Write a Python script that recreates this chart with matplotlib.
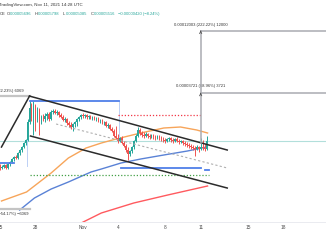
import matplotlib
matplotlib.use("Agg")
import matplotlib.pyplot as plt
import matplotlib.dates as mdates
from datetime import datetime, timedelta

plt.rcParams['font.family'] = ['Liberation Sans', 'DejaVu Sans']

# ---------------- data (4h candles, price x 1e-8) ----------------
start = datetime(2021, 10, 25, 0, 0)
opens = [4253, 4166, 4209, 4298, 4166, 4342, 4434, 4574, 4670, 4622,
         4869, 5023, 5182, 5402, 5574, 6721, 7775, 7006, 7938, 6862,
         7614, 6791, 7080, 6934, 7154, 7304, 6934, 7458, 7535, 7380,
         7458, 7229, 7080, 6862, 6934, 6651, 6515, 6381, 6583, 6721,
         6934, 7080, 7229, 7154, 7229, 7080, 7154, 7006, 7080, 6934,
         7006, 6791, 6862, 6651, 6721, 6447, 6515, 6249, 6121, 5810,
         5691, 5516, 5691, 5402, 5236, 5023, 4818, 4971, 5182, 5516,
         5810, 6185, 5995, 5871, 5810, 5933, 5810, 5750, 5871, 5750,
         5691, 5810, 5691, 5632, 5574, 5516, 5632, 5691, 5574, 5516,
         5632, 5516, 5459, 5516, 5402, 5346, 5291, 5236, 5182, 5129,
         5076, 5182, 5076, 5182, 5129, 5076]
highs = [4342, 4298, 4342, 4342, 4388, 4480, 4622, 4719, 4769, 4920,
         5076, 5236, 5459, 5632, 6934, 8362, 8190, 8362, 8106, 7856,
         7775, 7229, 7304, 7380, 7458, 7458, 7614, 7695, 7695, 7614,
         7535, 7380, 7229, 7080, 7006, 6791, 6721, 6651, 6791, 7006,
         7154, 7304, 7380, 7304, 7304, 7229, 7229, 7154, 7154, 7080,
         7080, 6934, 6934, 6791, 6791, 6651, 6583, 6381, 6249, 6447,
         5933, 5750, 5810, 5516, 5346, 5182, 5023, 5236, 5574, 5933,
         6381, 6315, 6121, 6057, 6057, 5995, 5933, 5933, 5933, 5871,
         5871, 5871, 5810, 5750, 5691, 5691, 5750, 5750, 5691, 5691,
         5750, 5632, 5574, 5574, 5516, 5459, 5402, 5346, 5291, 5236,
         5291, 5236, 5691, 5574, 5346, 5810]
lows = [4080, 4122, 4166, 4122, 4122, 4253, 4388, 4480, 4574, 4574,
        4769, 4920, 5129, 5291, 5516, 6583, 6791, 5871, 6121, 6721,
        5871, 6583, 6791, 6721, 6862, 6791, 6862, 7304, 7304, 7229,
        7080, 7006, 6791, 6721, 6515, 6381, 6249, 6121, 6381, 6447,
        6791, 6934, 7006, 7006, 6934, 6934, 6934, 6862, 6862, 6791,
        6721, 6651, 6583, 6515, 6381, 6315, 6185, 6057, 5750, 5632,
        5402, 5459, 5346, 5182, 4920, 4527, 4719, 4869, 5076, 5459,
        5750, 5871, 5750, 5691, 5750, 5691, 5632, 5691, 5632, 5574,
        5632, 5574, 5516, 5459, 5402, 5459, 5516, 5459, 5402, 5459,
        5459, 5346, 5402, 5291, 5236, 5182, 5129, 5076, 5023, 4719,
        5023, 4920, 5023, 5023, 4971, 5023]
closes = [4166, 4209, 4298, 4166, 4342, 4434, 4574, 4670, 4622, 4869,
          5023, 5182, 5402, 5574, 6721, 7775, 7006, 7938, 6862, 7614,
          6791, 7080, 6934, 7154, 7304, 6934, 7458, 7535, 7380, 7458,
          7229, 7080, 6862, 6934, 6651, 6515, 6381, 6583, 6721, 6934,
          7080, 7229, 7154, 7229, 7080, 7154, 7006, 7080, 6934, 7006,
          6791, 6862, 6651, 6721, 6447, 6515, 6249, 6121, 5810, 5691,
          5516, 5691, 5402, 5236, 5023, 4818, 4971, 5182, 5516, 5810,
          6185, 5995, 5871, 5810, 5933, 5810, 5750, 5871, 5750, 5691,
          5810, 5691, 5632, 5574, 5516, 5632, 5691, 5574, 5516, 5632,
          5516, 5459, 5516, 5402, 5346, 5291, 5236, 5182, 5129, 5076,
          5182, 5076, 5182, 5129, 5076, 5516]

# moving averages (sampled)
ma_orange_t = ["2021-10-25 03:00", "2021-10-27 06:00", "2021-10-29 08:00", "2021-10-30 19:00",
               "2021-11-01 07:00", "2021-11-02 14:00", "2021-11-03 20:00", "2021-11-05 22:00",
               "2021-11-07 21:00", "2021-11-09 07:00", "2021-11-10 16:00", "2021-11-11 14:00"]
ma_orange_v = [2956, 3246, 3955, 4622, 5129, 5402, 5632, 5995, 6315, 6381, 6185, 5995]
ma_blue_t = ["2021-10-26 16:00", "2021-10-27 22:00", "2021-10-29 08:00", "2021-10-30 19:00",
             "2021-11-01 17:00", "2021-11-02 14:00", "2021-11-04 06:00", "2021-11-05 22:00",
             "2021-11-07 21:00", "2021-11-09 21:00", "2021-11-11 12:00"]
ma_blue_v = [2691, 3049, 3348, 3601, 3996, 4122, 4388, 4574, 4769, 4971, 5182]
ma_red_t = ["2021-10-31 17:00", "2021-11-02 14:00", "2021-11-05 08:00", "2021-11-08 05:00",
            "2021-11-11 14:00"]
ma_red_v = [2327, 2609, 2895, 3146, 3455]

tick_dates = ["2021-10-25", "2021-10-28", "2021-11-01", "2021-11-04", "2021-11-08",
              "2021-11-11", "2021-11-15", "2021-11-18"]
tick_labels = ["25", "28", "Nov", "4", "8", "11", "15", "18"]

# drawing anchors (time, price)
peak_t, peak_p = "2021-10-27 12:00", 8800
chan_end_t = "2021-11-13 06:00"
upper_end_p = 5023
lower_start_t, lower_start_p = "2021-10-27 14:00", 5810
lower_end_p = 3383
mid_start_t, mid_start_p, mid_end_p = "2021-10-29 18:00", 6583, 4166
left_leg_t, left_leg_p = "2021-10-25 03:00", 5182
res_p, res_end_t = 8362, "2021-11-04 02:00"
red_dot_p = 7229
green_dot_p = 3873
sup_p = 4166
last_p = 5516
range_base_p, range_mid_p, range_top_p = 5402, 9117, 17404
left_top_p, left_bot_p = 8800, 2731

# ---------------- figure ----------------
W, H = 326, 245
fig = plt.figure(figsize=(W / 100, H / 100), dpi=100)
ax = fig.add_axes([0, 23 / H, 1, 222 / H])
ax.set_yscale('log')

D = lambda s: mdates.date2num(datetime.fromisoformat(s))

times = [start + timedelta(hours=4 * i) for i in range(len(closes))]
xs = mdates.date2num(times)
up_c, dn_c = '#26a69a', '#ef5350'
cols = [up_c if c >= o else dn_c for o, c in zip(opens, closes)]

# faint current price line
ax.axhline(last_p, color='#b2dfdb', lw=0.8, zorder=1)

# MAs
ax.plot([D(t) for t in ma_orange_t], ma_orange_v, color='#f7a55a', lw=1.0, zorder=2)
ax.plot([D(t) for t in ma_blue_t], ma_blue_v, color='#5a82d6', lw=1.0, zorder=2)
ax.plot([D(t) for t in ma_red_t], ma_red_v, color='#ff5a5f', lw=1.0, zorder=2)

# candles
ax.vlines(xs, lows, highs, colors=cols, lw=0.7, zorder=3)
bottoms = [min(o, c) for o, c in zip(opens, closes)]
heights = [max(abs(c - o), 10) for o, c in zip(opens, closes)]
ax.bar(xs, heights, bottom=bottoms, width=0.13, color=cols, zorder=4, linewidth=0)

# horizontals
ax.plot([D(peak_t), D(res_end_t)], [res_p, res_p], color='#4f7fe8', lw=1.3, zorder=5)
ax.plot([D(res_end_t), D(res_end_t)], [res_p, 5574], color='#bcd0f5', lw=0.7, zorder=2)
ax.plot([D("2021-11-04 00:00"), D("2021-11-11 00:00")], [red_dot_p] * 2,
        color='#f23645', lw=0.9, ls=(0, (1, 1.5)), zorder=5)
ax.plot([D(peak_t), D("2021-11-11 16:00")], [green_dot_p] * 2,
        color='#43a047', lw=0.9, ls=(0, (1, 1.5)), zorder=5)
ax.plot([D("2021-11-04 06:00"), D("2021-11-11 00:00")], [sup_p] * 2,
        color='#4f7fe8', lw=1.3, zorder=5)
ax.plot([D("2021-11-11 08:00"), D("2021-11-11 16:00")], [4080] * 2,
        color='#4f7fe8', lw=1.3, zorder=5)
ax.plot([D("2021-10-24 12:00"), D("2021-10-26 04:00")], [4388] * 2,
        color='#4f7fe8', lw=1.3, zorder=5)
ax.plot([D("2021-10-27 06:00"), D("2021-10-27 06:00")], [5574, 4253],
        color='#bcd0f5', lw=0.7, zorder=2)

# channel
ax.plot([D(left_leg_t), D(peak_t)], [left_leg_p, peak_p], color='#2b2b2b', lw=1.1, zorder=6)
ax.plot([D(peak_t), D(chan_end_t)], [peak_p, upper_end_p], color='#2b2b2b', lw=1.1, zorder=6)
ax.plot([D(lower_start_t), D(chan_end_t)], [lower_start_p, lower_end_p], color='#2b2b2b', lw=1.1, zorder=6)
ax.plot([D(mid_start_t), D(chan_end_t)], [mid_start_p, mid_end_p], color='#b0b0b0', lw=0.8,
        ls=(0, (2, 2)), zorder=5)

# left measurement
gray = '#a9abb2'
ax.plot([D("2021-10-24 00:00"), D(peak_t)], [left_top_p] * 2, color='#c4c4c4', lw=1.6, zorder=5)
ax.plot([D("2021-10-24 00:00"), D(peak_t)], [left_bot_p] * 2, color='#c4c4c4', lw=1.6, zorder=5)
ax.annotate("0.00006069 (222.23%) 6069", (D("2021-10-27 01:00"), left_top_p), xytext=(0, 3),
            textcoords='offset pixels', ha='right', va='bottom', fontsize=3.0, color='#333333')
ax.annotate("\u22120.00006069 (\u221254.17%) \u22126069", (D("2021-10-27 09:00"), left_bot_p),
            xytext=(0, -3), textcoords='offset pixels', ha='right', va='top', fontsize=3.0, color='#333333')

# right measurement
xr = D("2021-11-11 00:00")
ax.plot([xr, xr], [range_base_p, range_top_p], color=gray, lw=1.1, zorder=6)
ax.plot([xr, D("2021-11-23 00:00")], [range_mid_p] * 2, color=gray, lw=1.1, zorder=6)
ax.plot([xr, D("2021-11-23 00:00")], [range_top_p] * 2, color=gray, lw=1.1, zorder=6)
for p in (range_mid_p, range_top_p):
    ax.annotate('', xy=(xr, p), xytext=(xr, p * 0.96),
                arrowprops=dict(arrowstyle='->', color='#555555', lw=0.6, mutation_scale=4), zorder=7)
ax.annotate("0.00003721 (68.96%) 3721", (xr, range_mid_p), xytext=(0, 5),
            textcoords='offset pixels', ha='center', va='bottom', fontsize=3.0, color='#333333')
ax.annotate("0.00012003 (222.22%) 12000", (xr, range_top_p), xytext=(0, 4),
            textcoords='offset pixels', ha='center', va='bottom', fontsize=3.0, color='#333333')

# axes style
ax.set_xlim(D("2021-10-25 03:14"), D("2021-11-21 14:50"))
ax.set_ylim(2376, 23904)
for s in ['top', 'left', 'right']:
    ax.spines[s].set_visible(False)
ax.spines['bottom'].set_color('#e6e8ee')
ax.spines['bottom'].set_linewidth(0.6)
ax.set_yticks([])
ax.yaxis.set_minor_locator(matplotlib.ticker.NullLocator())
ax.set_xticks([D(t) for t in tick_dates])
ax.set_xticklabels(tick_labels)
ax.tick_params(axis='x', length=0, pad=2.0, labelsize=3.4, labelcolor='#4a4a4a')

# header text
fig.text(-1 / W, 1 - 5 / H, "TradingView.com, Nov 11, 2021 14:28 UTC", fontsize=3.2,
         color='#333333', va='center', ha='left')
teal = '#26a69a'
y2 = 1 - 14 / H
fig.text(0 / W, y2, "CE", fontsize=3.0, color='#333333', va='center')
pieces = [(7, "O", "0.00005696"), (35, "H", "0.00005798"), (63, "L", "0.00005085"), (91, "C", "0.00005516")]
for x0, lab, val in pieces:
    fig.text(x0 / W, y2, lab, fontsize=3.0, color='#333333', va='center')
    fig.text((x0 + 2.5) / W, y2, val, fontsize=3.0, color=teal, va='center')
fig.text(118 / W, y2, "\u22120.00000420 (\u22128.24%)", fontsize=3.0, color=teal, va='center')

fig.savefig("out.png", dpi=100, facecolor='white')
